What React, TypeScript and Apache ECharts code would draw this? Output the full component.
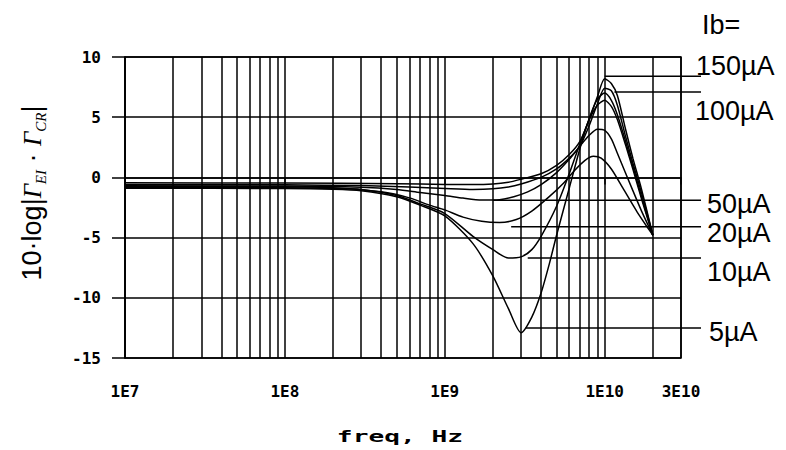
import React, { useEffect, useRef } from "react";
import * as echarts from "echarts";

// ---- data (freq in Hz, value in dB) ----
const curve150: number[][] = [
  [1e7, -0.45], [1e8, -0.47], [5e8, -0.52], [1e9, -0.58], [1.5e9, -0.6], [2e9, -0.55],
  [2.5e9, -0.4], [3e9, -0.15], [4e9, 0.3], [5e9, 1.0], [6e9, 1.9], [7e9, 3.0],
  [8e9, 4.8], [9e9, 6.7], [1e10, 8.2], [1.1e10, 7.8], [1.2e10, 6.8], [1.35e10, 4.0],
  [1.5e10, 1.6], [1.7e10, -1.0], [2e10, -4.8],
];
const curve100: number[][] = [
  [1e7, -0.6], [1e8, -0.62], [3e8, -0.68], [6e8, -0.8], [1e9, -0.92], [1.5e9, -1.0],
  [2e9, -0.95], [2.5e9, -0.8], [3e9, -0.55], [4e9, 0.0], [5e9, 0.7], [6e9, 1.6],
  [7e9, 2.6], [8e9, 4.3], [9e9, 6.1], [1e10, 7.4], [1.1e10, 7.2], [1.2e10, 6.0],
  [1.35e10, 3.4], [1.5e10, 1.2], [1.7e10, -1.3], [2e10, -4.8],
];
const curve50: number[][] = [
  [1e7, -0.7], [1e8, -0.72], [3e8, -0.82], [5e8, -1.0], [7e8, -1.25], [1e9, -1.5],
  [1.3e9, -1.72], [1.7e9, -1.88], [2.2e9, -1.85], [2.7e9, -1.6], [3.3e9, -1.2],
  [4e9, -0.6], [5e9, 0.4], [6e9, 1.5], [7e9, 2.6], [8e9, 3.5], [9e9, 4.0],
  [1e10, 3.9], [1.1e10, 3.2], [1.2e10, 2.0], [1.5e10, -1.1], [1.7e10, -2.8], [2e10, -4.8],
];
const curve20: number[][] = [
  [1e7, -0.75], [1e8, -0.78], [2e8, -0.85], [4e8, -1.2], [6e8, -1.7], [8e8, -2.3],
  [1e9, -2.7], [1.3e9, -3.3], [1.7e9, -3.65], [2.2e9, -3.75], [2.8e9, -3.5],
  [3.5e9, -2.8], [4.5e9, -1.6], [5.5e9, -0.5], [6.5e9, 0.6], [7.5e9, 1.4],
  [8.5e9, 1.75], [9.5e9, 1.6], [1.1e10, 0.7], [1.3e10, -0.9], [1.6e10, -2.9], [2e10, -4.8],
];
const curve10: number[][] = [
  [1e7, -0.85], [1e8, -0.87], [2e8, -0.92], [3e8, -1.0], [5e8, -1.5], [7e8, -2.2],
  [1e9, -3.0], [1.5e9, -4.9], [2e9, -6.0], [2.5e9, -6.7], [3e9, -6.6], [3.5e9, -6.0],
  [4e9, -4.9], [5e9, -2.4], [6e9, 0.3], [7e9, 2.8], [8e9, 4.8], [9e9, 6.0],
  [1e10, 6.4], [1.1e10, 5.9], [1.2e10, 4.8], [1.35e10, 2.7], [1.5e10, 0.7],
  [1.7e10, -1.8], [2e10, -4.8],
];
const curve5: number[][] = [
  [1e7, -0.9], [1e8, -0.92], [2e8, -0.98], [3e8, -1.1], [5e8, -1.6], [7e8, -2.3],
  [1e9, -3.2], [1.5e9, -5.5], [2e9, -8.2], [2.5e9, -10.9], [3e9, -12.9], [3.5e9, -11.6],
  [4e9, -9.6], [4.5e9, -7.2], [5e9, -4.8], [6e9, -0.9], [7e9, 2.4], [8e9, 4.9],
  [9e9, 6.5], [1e10, 7.0], [1.1e10, 6.4], [1.2e10, 5.2], [1.35e10, 3.0], [1.5e10, 0.9],
  [1.7e10, -1.6], [2e10, -4.8],
];

const seriesNames = ["150µA", "100µA", "50µA", "20µA", "10µA", "5µA"];
const seriesData = [curve150, curve100, curve50, curve20, curve10, curve5];

// leader lines: level (dB) and start frequency
const leaderLevels = [8.4, 7.1, -1.9, -4.1, -6.7, -12.5];
const leaderStartFreqs = [1.0e10, 1.15e10, 2.0e9, 2.6e9, 3.3e9, 3.2e9];

// axes
const xMin = 1e7;
const xMax = 3e10;
const yMin = -15;
const yMax = 10;
const yStep = 5;
const decades = [1e7, 1e8, 1e9, 1e10];
const minorMultipliers = [2, 3, 4, 5, 6, 7, 8, 9];

// label layout (pixels)
const labelLayout = [
  { text: "Ib=", x: 702, y: 25 },
  { text: "150µA", x: 696, y: 66 },
  { text: "100µA", x: 695, y: 111 },
  { text: "50µA", x: 707, y: 204 },
  { text: "20µA", x: 707, y: 233 },
  { text: "10µA", x: 707, y: 272 },
  { text: "5µA", x: 709, y: 332 },
];

const fmtFreq = (v: number) => {
  const e = Math.floor(Math.log10(v) + 1e-9);
  const m = Math.round(v / Math.pow(10, e));
  return `${m}E${e}`;
};

export default function App() {
  const ref = useRef<HTMLDivElement>(null);
  useEffect(() => {
    if (!ref.current) return;
    const chart = echarts.init(ref.current, null, { renderer: "svg" });
    const minorFreqs: number[] = [];
    decades.forEach((d) =>
      minorMultipliers.forEach((m) => {
        if (d * m < xMax) minorFreqs.push(d * m);
      })
    );
    const black = "#000";
    const series: any[] = seriesData.map((d, i) => ({
      name: seriesNames[i],
      type: "line",
      data: d,
      showSymbol: false,
      smooth: 0.25,
      lineStyle: { color: black, width: 1.5 },
      itemStyle: { color: black },
      z: 3,
      silent: true,
    }));
    series[0].markLine = {
      silent: true,
      symbol: ["none", "none"],
      label: { show: false },
      lineStyle: { color: black, width: 1.5, type: "solid" },
      emphasis: { disabled: true },
      data: minorFreqs.map((f) => ({ xAxis: f })),
      z: 1,
    };
    chart.setOption({
      animation: false,
      backgroundColor: "#fff",
      grid: {
        left: 125,
        right: 105,
        top: 57,
        bottom: 92,
        show: true,
        borderColor: black,
        borderWidth: 1.5,
      },
      xAxis: {
        type: "log",
        logBase: 10,
        min: xMin,
        max: xMax,
        axisLine: { show: true, lineStyle: { color: black, width: 1.5 } },
        axisTick: { show: true, length: 7, lineStyle: { color: black, width: 1.5 } },
        axisLabel: {
          formatter: fmtFreq,
          color: black,
          fontFamily: "DejaVu Sans Mono",
          fontWeight: "bold",
          fontSize: 16,
          margin: 25,
          showMaxLabel: true,
          showMinLabel: true,
        },
        splitLine: { show: true, lineStyle: { color: black, width: 1.5 } },
      },
      yAxis: {
        type: "value",
        min: yMin,
        max: yMax,
        interval: yStep,
        axisLine: { show: true, lineStyle: { color: black, width: 1.5 } },
        axisTick: { show: true, length: 13, lineStyle: { color: black, width: 1.5 } },
        axisLabel: {
          color: black,
          fontFamily: "DejaVu Sans Mono",
          fontWeight: "bold",
          fontSize: 16,
          margin: 24,
        },
        splitLine: { show: true, lineStyle: { color: black, width: 1.5 } },
      },
      series,
    });

    const rightPx = chart.convertToPixel({ gridIndex: 0 }, [xMax, 0])[0];
    const leaders = leaderLevels.map((lv, i) => {
      const p = chart.convertToPixel({ gridIndex: 0 }, [leaderStartFreqs[i], lv]);
      return {
        type: "line",
        silent: true,
        z: 10,
        shape: { x1: p[0], y1: p[1], x2: rightPx + 20, y2: p[1] },
        style: { stroke: black, lineWidth: 1.5 },
      };
    });
    const labels = labelLayout.map((l) => ({
      type: "text",
      silent: true,
      x: l.x,
      y: l.y,
      style: {
        text: l.text,
        fill: black,
        font: "27px 'Liberation Sans', Arial, sans-serif",
        align: "left",
        verticalAlign: "middle",
      },
    }));
    const xTitle = {
      type: "text",
      silent: true,
      x: 400,
      y: 437,
      scaleX: 1.75,
      style: {
        text: "freq, Hz",
        fill: black,
        font: "bold 15px 'DejaVu Sans Mono', monospace",
        align: "center",
        verticalAlign: "middle",
      },
    };
    const yTitle = {
      type: "text",
      silent: true,
      x: 32,
      y: 193,
      rotation: Math.PI / 2,
      style: {
        text: "{n|10·log|}{g|Γ}{s|EI}{n| · }{g|Γ}{s|CR}{n||}",
        fill: black,
        align: "center",
        verticalAlign: "middle",
        rich: {
          n: { fontSize: 27, fontFamily: "Liberation Sans", lineHeight: 32, verticalAlign: "middle", fill: black },
          g: { fontSize: 25, fontFamily: "Liberation Serif", fontStyle: "italic", lineHeight: 32, verticalAlign: "middle", fill: black },
          s: { fontSize: 15, fontFamily: "Liberation Serif", fontStyle: "italic", lineHeight: 32, verticalAlign: "bottom", fill: black },
        },
      },
    };
    chart.setOption({ graphic: [...leaders, ...labels, xTitle, yTitle] });
    return () => chart.dispose();
  }, []);
  return (
    <div
      ref={ref}
      style={{ position: "absolute", left: 0, top: 0, width: 786, height: 450 }}
    />
  );
}
